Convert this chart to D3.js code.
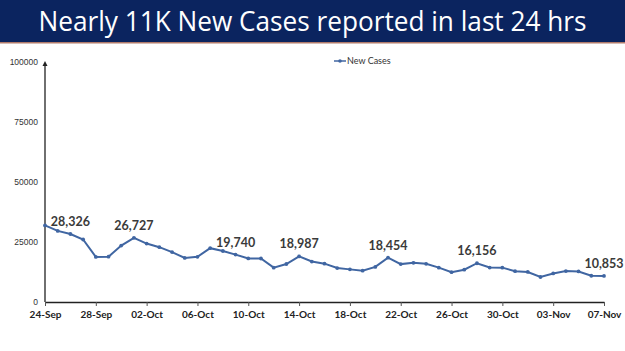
<!DOCTYPE html>
<html>
<head>
<meta charset="utf-8">
<script src="https://cdn.jsdelivr.net/npm/d3@7"></script>
<style>
  body { margin: 0; background: #fff; }
  svg { display: block; }
</style>
</head>
<body>
<svg id="chart" width="625" height="351"></svg>
<script>
// Daily new cases, 24-Sep to 07-Nov
const dates = ["24-Sep","25-Sep","26-Sep","27-Sep","28-Sep","29-Sep","30-Sep",
  "01-Oct","02-Oct","03-Oct","04-Oct","05-Oct","06-Oct","07-Oct","08-Oct","09-Oct",
  "10-Oct","11-Oct","12-Oct","13-Oct","14-Oct","15-Oct","16-Oct","17-Oct","18-Oct",
  "19-Oct","20-Oct","21-Oct","22-Oct","23-Oct","24-Oct","25-Oct","26-Oct","27-Oct",
  "28-Oct","29-Oct","30-Oct","31-Oct","01-Nov","02-Nov","03-Nov","04-Nov","05-Nov",
  "06-Nov","07-Nov"];
const newCases = [31923, 29616, 28326, 26041, 18795, 18870, 23529,
  26727, 24354, 22842, 20799, 18346, 18833, 22431, 21257, 19740,
  18166, 18132, 14313, 15823, 18987, 16862, 15981, 14146, 13596,
  13058, 14623, 18454, 15786, 16326, 15906, 14306, 12428, 13451,
  16156, 14348, 14313, 12830, 12514, 10423, 11903, 12885, 12729,
  10929, 10853];
const labelledDates = ["26-Sep","01-Oct","09-Oct","14-Oct","21-Oct","28-Oct","07-Nov"];
const xTickLabels = ["24-Sep","28-Sep","02-Oct","06-Oct","10-Oct","14-Oct","18-Oct",
  "22-Oct","26-Oct","30-Oct","03-Nov","07-Nov"];
const yTicks = [0, 25000, 50000, 75000, 100000];
const title = "Nearly 11K New Cases reported in last 24 hrs";
const seriesName = "New Cases";

const data = dates.map((d, i) => ({ date: d, value: newCases[i] }));

let svg = d3.select("#chart");
const W = 625, H = 351;
const margins = { top: 62, right: 21, bottom: 49, left: 45 };
const lineColor = "#4066a2";

// Title banner
svg.append("rect")
  .attr("x", 0).attr("y", 0).attr("width", W).attr("height", 42)
  .attr("fill", "#0b245f");
svg.append("rect")
  .attr("x", 0).attr("y", 42).attr("width", W).attr("height", 1.5)
  .attr("fill", "#b07a6a");
svg.append("text")
  .attr("x", W / 2).attr("y", 31)
  .attr("text-anchor", "middle")
  .attr("fill", "#fff")
  .attr("font-family", "'Open Sans', 'Noto Sans', sans-serif")
  .attr("font-size", 27.5)
  .attr("textLength", 548)
  .attr("lengthAdjust", "spacingAndGlyphs")
  .text(title);

// Scales
let xScale = d3.scalePoint()
  .domain(dates)
  .range([margins.left, W - margins.right]);
let yScale = d3.scaleLinear()
  .domain([0, 100000])
  .range([H - margins.bottom, margins.top]);

const axisColor = "#222";

// Y axis with arrow head, no tick marks
const yTop = yScale(100000);
svg.append("line")
  .attr("x1", margins.left).attr("x2", margins.left)
  .attr("y1", yScale(0)).attr("y2", yTop + 2)
  .attr("stroke", axisColor).attr("stroke-width", 1.3);
svg.append("path")
  .attr("d", d3.line()([[margins.left - 2.5, yTop + 4], [margins.left, yTop - 1], [margins.left + 2.5, yTop + 4]]) + "Z")
  .attr("fill", axisColor);

svg.append("g")
  .selectAll("text")
  .data(yTicks)
  .enter()
  .append("text")
  .attr("x", 38)
  .attr("y", (d) => yScale(d))
  .attr("dy", "0.35em")
  .attr("text-anchor", "end")
  .attr("font-family", "'Liberation Sans', Arial, sans-serif")
  .attr("font-size", 8.5)
  .attr("fill", "#333")
  .text((d) => d);

// X axis
let xAxisG = svg.append("g")
  .attr("transform", "translate(0," + yScale(0) + ")")
  .call(d3.axisBottom(xScale).tickValues(xTickLabels).tickSize(4).tickSizeOuter(0).tickPadding(5));
xAxisG.select(".domain").attr("stroke", axisColor).attr("stroke-width", 1.3);
xAxisG.selectAll(".tick line").attr("stroke", "#555");
xAxisG.selectAll(".tick text")
  .attr("font-family", "Lato, 'Open Sans', sans-serif")
  .attr("font-weight", "bold")
  .attr("font-size", 10)
  .attr("fill", "#222");

// Series line
let line = d3.line()
  .x((d) => xScale(d.date))
  .y((d) => yScale(d.value));

svg.append("path")
  .datum(data)
  .attr("d", line)
  .attr("fill", "none")
  .attr("stroke", lineColor)
  .attr("stroke-width", 2);

svg.append("g")
  .selectAll("circle")
  .data(data)
  .enter()
  .append("circle")
  .attr("cx", (d) => xScale(d.date))
  .attr("cy", (d) => yScale(d.value))
  .attr("r", 1.9)
  .attr("fill", lineColor);

// Data labels
const fmt = d3.format(",");
svg.append("g")
  .selectAll("text")
  .data(data.filter((d) => labelledDates.includes(d.date)))
  .enter()
  .append("text")
  .attr("x", (d) => xScale(d.date))
  .attr("y", (d) => yScale(d.value) - 8)
  .attr("text-anchor", "middle")
  .attr("font-family", "Lato, 'Open Sans', sans-serif")
  .attr("font-weight", "bold")
  .attr("font-size", 12.5)
  .attr("fill", "#3a3a3a")
  .text((d) => fmt(d.value));

// Legend
let legend = svg.append("g").attr("transform", "translate(334,61)");
legend.append("line")
  .attr("x1", 0).attr("x2", 12).attr("y1", 0).attr("y2", 0)
  .attr("stroke", lineColor).attr("stroke-width", 1.5);
legend.append("circle").attr("cx", 6).attr("cy", 0).attr("r", 1.8).attr("fill", lineColor);
legend.append("text")
  .attr("x", 13).attr("y", 0).attr("dy", "0.35em")
  .attr("font-family", "Lato, 'Open Sans', sans-serif")
  .attr("font-size", 9)
  .attr("fill", "#333")
  .text(seriesName);
</script>
</body>
</html>
